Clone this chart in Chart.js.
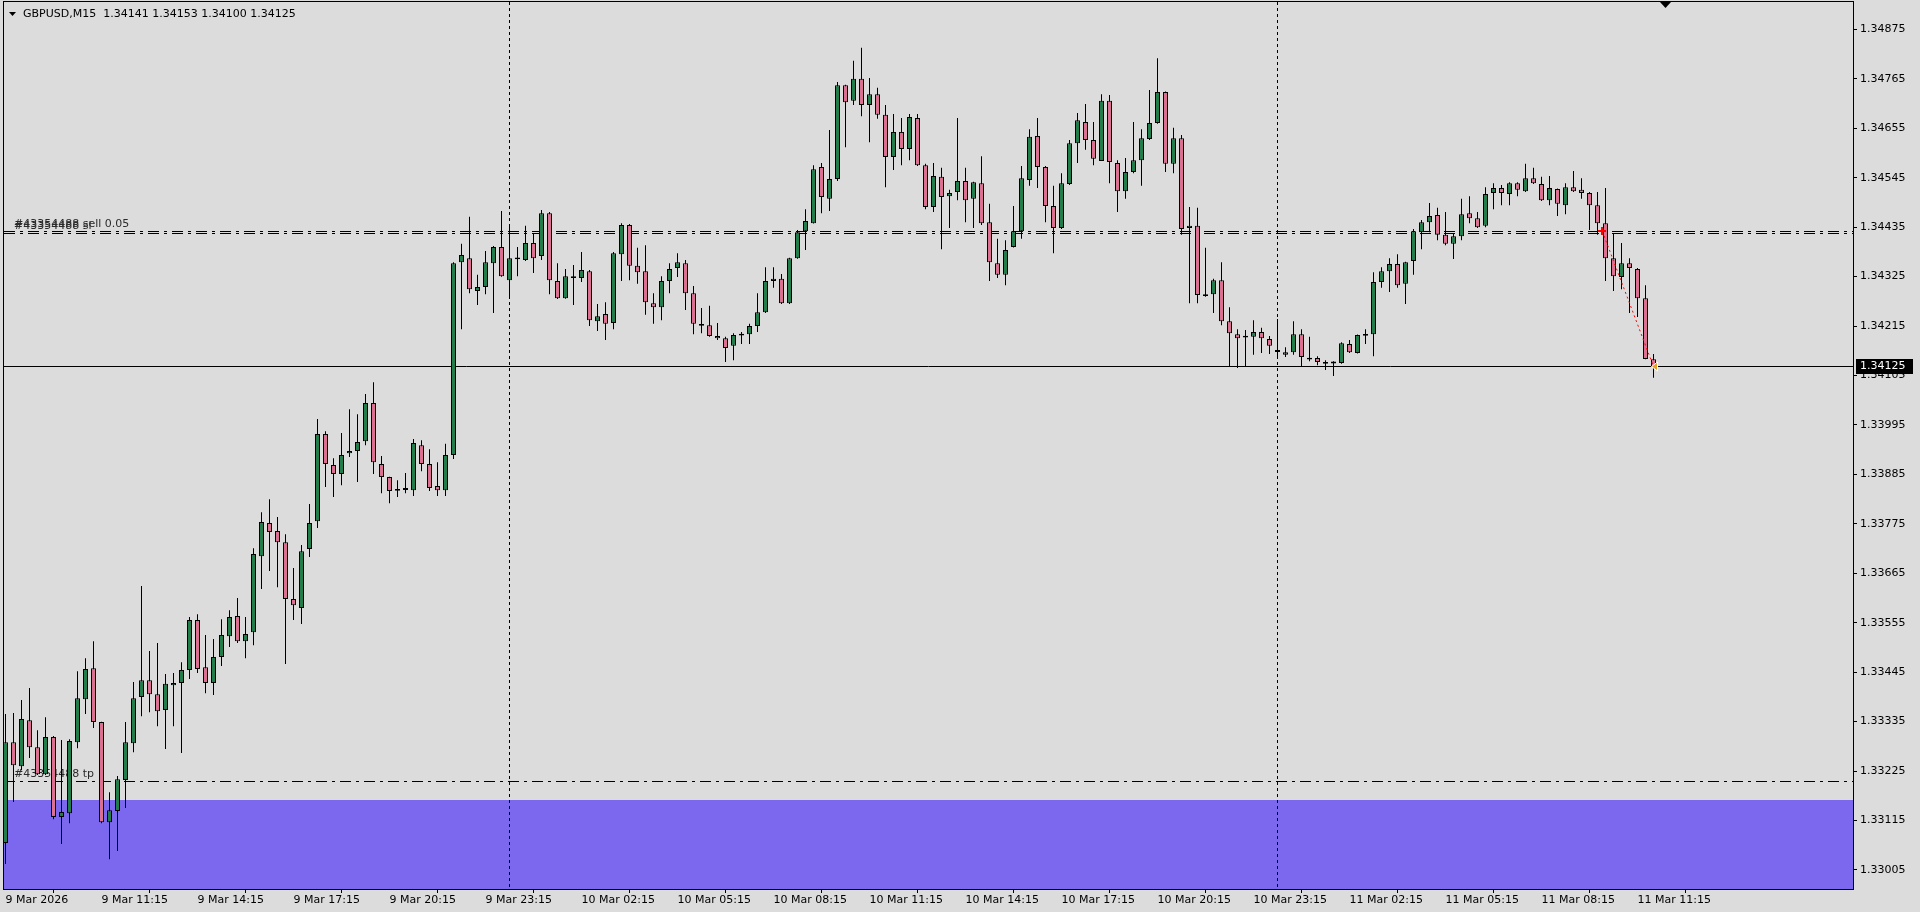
<!DOCTYPE html>
<html>
<head>
<meta charset="utf-8">
<title>GBPUSD,M15</title>
<script src="https://cdn.jsdelivr.net/npm/chart.js@4/dist/chart.umd.min.js"></script>
<style>
  html, body { margin: 0; padding: 0; background: #dcdcdc; overflow: hidden; }
  #wrap { width: 1920px; height: 912px; }
</style>
</head>
<body>
<div id="wrap"><canvas id="chart" width="1920" height="912"></canvas></div>
<script>
// ---- data (GBPUSD M15, 9 Mar 08:15 .. 11 Mar 11:45) ----
const symbolName = "GBPUSD,M15";

const timeLabels = [
  "9 Mar 2026", "9 Mar 11:15", "9 Mar 14:15", "9 Mar 17:15", "9 Mar 20:15", "9 Mar 23:15",
  "10 Mar 02:15", "10 Mar 05:15", "10 Mar 08:15", "10 Mar 11:15", "10 Mar 14:15", "10 Mar 17:15",
  "10 Mar 20:15", "10 Mar 23:15", "11 Mar 02:15", "11 Mar 05:15", "11 Mar 08:15", "11 Mar 11:15"
];
const barsPerLabel = 12; // 3 hours of M15 bars

const priceTicks = [
  1.33005, 1.33115, 1.33225, 1.33335, 1.33445, 1.33555, 1.33665, 1.33775, 1.33885,
  1.33995, 1.34105, 1.34215, 1.34325, 1.34435, 1.34545, 1.34655, 1.34765, 1.34875
];

const opens = [
  1.33065,1.33289,1.33236,1.33338,1.33278,1.33218,1.33301,1.33123,1.33131,1.33289,
  1.33385,1.33454,1.33334,1.33111,1.33136,1.33205,1.33287,1.33390,1.33427,1.33396,
  1.33361,1.33416,1.33421,1.33450,1.33561,1.33456,1.33421,1.33479,1.33525,1.33570,
  1.33514,1.33534,1.33703,1.33777,1.33759,1.33734,1.33608,1.33588,1.33719,1.33781,
  1.33975,1.33906,1.33886,1.33932,1.33937,1.33959,1.34044,1.33908,1.33879,1.33850,
  1.33852,1.33850,1.33950,1.33908,1.33859,1.33850,1.33928,1.34357,1.34366,1.34293,
  1.34302,1.34355,1.34391,1.34317,1.34365,1.34362,1.34400,1.34371,1.34466,1.34315,
  1.34277,1.34326,1.34322,1.34337,1.34226,1.34242,1.34222,1.34375,1.34440,1.34349,
  1.34337,1.34266,1.34257,1.34315,1.34344,1.34355,1.34288,1.34217,1.34217,1.34193,
  1.34188,1.34171,1.34195,1.34197,1.34215,1.34246,1.34315,1.34320,1.34266,1.34366,
  1.34426,1.34444,1.34569,1.34498,1.34542,1.34751,1.34716,1.34765,1.34707,1.34731,
  1.34685,1.34591,1.34647,1.34609,1.34678,1.34573,1.34480,1.34547,1.34504,1.34513,
  1.34538,1.34498,1.34533,1.34446,1.34355,1.34329,1.34391,1.34426,1.34540,1.34638,
  1.34569,1.34482,1.34433,1.34531,1.34622,1.34669,1.34629,1.34582,1.34716,1.34578,
  1.34515,1.34558,1.34584,1.34631,1.34667,1.34736,1.34576,1.34633,1.34433,1.34438,
  1.34282,1.34286,1.34317,1.34226,1.34197,1.34191,1.34191,1.34202,1.34186,1.34159,
  1.34151,1.34157,1.34197,1.34143,1.34144,1.34133,1.34133,1.34133,1.34175,1.34155,
  1.34195,1.34197,1.34313,1.34337,1.34353,1.34309,1.34360,1.34424,1.34446,1.34462,
  1.34418,1.34398,1.34415,1.34466,1.34455,1.34438,1.34511,1.34522,1.34509,1.34533,
  1.34515,1.34544,1.34531,1.34495,1.34520,1.34484,1.34524,1.34518,1.34511,1.34484,
  1.34444,1.34366,1.34324,1.34355,1.34342,1.34277,1.34141
];
const highs = [
  1.33352,1.33354,1.33383,1.33410,1.33316,1.33345,1.33303,1.33294,1.33296,1.33447,
  1.33476,1.33514,1.33335,1.33178,1.33214,1.33334,1.33423,1.33637,1.33492,1.33510,
  1.33441,1.33443,1.33467,1.33568,1.33574,1.33528,1.33519,1.33563,1.33583,1.33610,
  1.33568,1.33721,1.33801,1.33830,1.33790,1.33752,1.33677,1.33728,1.33819,1.34008,
  1.33981,1.33921,1.33977,1.34030,1.34019,1.34064,1.34090,1.33926,1.33880,1.33872,
  1.33888,1.33964,1.33961,1.33941,1.33912,1.33953,1.34357,1.34398,1.34458,1.34329,
  1.34382,1.34393,1.34471,1.34438,1.34391,1.34438,1.34420,1.34473,1.34469,1.34355,
  1.34342,1.34351,1.34380,1.34340,1.34264,1.34268,1.34380,1.34444,1.34442,1.34389,
  1.34395,1.34288,1.34326,1.34355,1.34377,1.34362,1.34304,1.34255,1.34260,1.34222,
  1.34191,1.34199,1.34202,1.34220,1.34288,1.34346,1.34346,1.34331,1.34367,1.34429,
  1.34475,1.34573,1.34578,1.34651,1.34758,1.34752,1.34805,1.34834,1.34767,1.34745,
  1.34707,1.34687,1.34678,1.34687,1.34687,1.34576,1.34578,1.34567,1.34518,1.34678,
  1.34567,1.34536,1.34593,1.34487,1.34409,1.34406,1.34482,1.34571,1.34653,1.34678,
  1.34571,1.34527,1.34555,1.34629,1.34689,1.34709,1.34669,1.34731,1.34729,1.34584,
  1.34589,1.34669,1.34653,1.34740,1.34811,1.34737,1.34656,1.34640,1.34480,1.34478,
  1.34389,1.34320,1.34357,1.34257,1.34208,1.34206,1.34228,1.34211,1.34193,1.34231,
  1.34168,1.34226,1.34208,1.34191,1.34148,1.34139,1.34137,1.34179,1.34184,1.34196,
  1.34208,1.34335,1.34346,1.34366,1.34375,1.34358,1.34431,1.34451,1.34489,1.34478,
  1.34469,1.34420,1.34498,1.34504,1.34469,1.34524,1.34533,1.34529,1.34535,1.34535,
  1.34576,1.34567,1.34547,1.34549,1.34521,1.34533,1.34560,1.34544,1.34513,1.34513,
  1.34522,1.34420,1.34400,1.34366,1.34344,1.34306,1.34153
];
const lows = [
  1.33018,1.33156,1.33227,1.33254,1.33216,1.33216,1.33118,1.33063,1.33109,1.33276,
  1.33352,1.33321,1.33109,1.33029,1.33047,1.33143,1.33267,1.33347,1.33356,1.33325,
  1.33274,1.33325,1.33265,1.33430,1.33443,1.33398,1.33394,1.33459,1.33501,1.33510,
  1.33476,1.33505,1.33630,1.33670,1.33634,1.33463,1.33561,1.33552,1.33701,1.33766,
  1.33857,1.33835,1.33861,1.33924,1.33868,1.33950,1.33886,1.33843,1.33821,1.33835,
  1.33843,1.33837,1.33892,1.33848,1.33837,1.33837,1.33919,1.34208,1.34288,1.34262,
  1.34286,1.34244,1.34325,1.34275,1.34326,1.34360,1.34333,1.34362,1.34286,1.34275,
  1.34276,1.34262,1.34313,1.34215,1.34204,1.34184,1.34208,1.34315,1.34317,1.34309,
  1.34240,1.34220,1.34228,1.34288,1.34324,1.34251,1.34197,1.34199,1.34191,1.34184,
  1.34135,1.34139,1.34175,1.34175,1.34202,1.34244,1.34300,1.34264,1.34264,1.34365,
  1.34384,1.34443,1.34466,1.34471,1.34538,1.34613,1.34707,1.34682,1.34624,1.34676,
  1.34524,1.34562,1.34573,1.34584,1.34571,1.34475,1.34469,1.34386,1.34433,1.34495,
  1.34446,1.34433,1.34440,1.34315,1.34322,1.34306,1.34390,1.34409,1.34527,1.34522,
  1.34446,1.34377,1.34431,1.34529,1.34578,1.34607,1.34573,1.34582,1.34533,1.34469,
  1.34498,1.34555,1.34527,1.34629,1.34665,1.34558,1.34555,1.34418,1.34266,1.34266,
  1.34280,1.34244,1.34217,1.34126,1.34122,1.34126,1.34151,1.34155,1.34153,1.34142,
  1.34146,1.34151,1.34126,1.34137,1.34128,1.34117,1.34104,1.34131,1.34155,1.34154,
  1.34175,1.34148,1.34300,1.34291,1.34300,1.34264,1.34329,1.34386,1.34424,1.34406,
  1.34395,1.34364,1.34406,1.34444,1.34433,1.34435,1.34475,1.34484,1.34484,1.34504,
  1.34513,1.34531,1.34493,1.34484,1.34460,1.34464,1.34513,1.34498,1.34429,1.34418,
  1.34315,1.34293,1.34297,1.34244,1.34235,1.34141,1.34100
];
const closes = [
  1.33289,1.33238,1.33341,1.33278,1.33218,1.33301,1.33123,1.33134,1.33292,1.33387,
  1.33452,1.33334,1.33111,1.33138,1.33207,1.33289,1.33387,1.33427,1.33396,1.33358,
  1.33419,1.33421,1.33450,1.33561,1.33452,1.33421,1.33479,1.33528,1.33568,1.33514,
  1.33530,1.33708,1.33779,1.33757,1.33734,1.33608,1.33594,1.33714,1.33777,1.33975,
  1.33908,1.33886,1.33928,1.33937,1.33957,1.34044,1.33912,1.33879,1.33848,1.33851,
  1.33853,1.33955,1.33908,1.33855,1.33850,1.33928,1.34355,1.34373,1.34297,1.34302,
  1.34357,1.34391,1.34326,1.34366,1.34366,1.34400,1.34366,1.34466,1.34317,1.34277,
  1.34326,1.34322,1.34340,1.34228,1.34237,1.34220,1.34377,1.34440,1.34349,1.34335,
  1.34268,1.34257,1.34315,1.34342,1.34357,1.34288,1.34220,1.34218,1.34193,1.34188,
  1.34166,1.34195,1.34197,1.34215,1.34246,1.34315,1.34320,1.34266,1.34366,1.34424,
  1.34449,1.34564,1.34502,1.34542,1.34751,1.34713,1.34765,1.34707,1.34731,1.34685,
  1.34591,1.34647,1.34609,1.34680,1.34573,1.34480,1.34549,1.34502,1.34511,1.34538,
  1.34495,1.34535,1.34444,1.34357,1.34329,1.34384,1.34426,1.34544,1.34636,1.34569,
  1.34482,1.34433,1.34533,1.34622,1.34673,1.34629,1.34587,1.34716,1.34580,1.34515,
  1.34558,1.34584,1.34633,1.34667,1.34736,1.34576,1.34633,1.34431,1.34438,1.34284,
  1.34286,1.34317,1.34226,1.34199,1.34188,1.34192,1.34202,1.34188,1.34171,1.34160,
  1.34157,1.34197,1.34146,1.34142,1.34135,1.34133,1.34135,1.34177,1.34157,1.34195,
  1.34196,1.34313,1.34337,1.34353,1.34306,1.34357,1.34426,1.34446,1.34460,1.34418,
  1.34398,1.34415,1.34464,1.34455,1.34435,1.34509,1.34522,1.34511,1.34533,1.34518,
  1.34544,1.34533,1.34495,1.34522,1.34487,1.34524,1.34515,1.34511,1.34484,1.34444,
  1.34366,1.34326,1.34355,1.34344,1.34277,1.34142,1.34125
];

// chart objects
const orderLevels = [
  { label: "#43354488 sell 0.05", price: 1.34426 },
  { label: "#43354488 sl", price: 1.34420 },
  { label: "#43354488 tp", price: 1.33202 }
];
const tpZoneTop = 1.33160;
const daySeparatorBars = [63, 159];
const tradeOpen = { bar: 199.6, price: 1.34426 };
const tradeClose = { bar: 206, price: 1.34125 };

const BULL = "#237d4b", BEAR = "#db7093", BG = "#dcdcdc";
const FONT = '"DejaVu Sans", "Liberation Sans", sans-serif';

const lastBar = closes.length - 1;
const currentPrice = closes[lastBar];

// candle pieces: wick = [low, high], body = [min(o,c), max(o,c)] (dojis get a hairline body)
const wickData = highs.map((h, i) => ({ x: i, y: [lows[i], h] }));
const bodyData = opens.map((o, i) => {
  let lo = Math.min(o, closes[i]), hi = Math.max(o, closes[i]);
  if (hi - lo < 0.00004) { const m = (hi + lo) / 2; lo = m - 0.00002; hi = m + 0.00002; }
  return { x: i, y: [lo, hi] };
});
const bodyColors = opens.map((o, i) => closes[i] >= o ? BULL : BEAR);

function hLine(ctx, a, py) {
  const yy = Math.floor(py) + 0.5;
  ctx.beginPath(); ctx.moveTo(a.left, yy); ctx.lineTo(a.right, yy); ctx.stroke();
  return yy;
}

const mtObjects = {
  id: "mtObjects",
  beforeDraw(chart) {
    const { ctx, width, height } = chart;
    ctx.save(); ctx.fillStyle = BG; ctx.fillRect(0, 0, width, height); ctx.restore();
  },
  beforeDatasetsDraw(chart) {
    const { ctx, chartArea: a, scales: { x, y } } = chart;
    ctx.save();
    ctx.beginPath(); ctx.rect(a.left, a.top, a.right - a.left, a.bottom - a.top); ctx.clip();

    // take-profit zone rectangle
    const zTop = Math.round(y.getPixelForValue(tpZoneTop));
    ctx.fillStyle = "#7b68ee";
    ctx.fillRect(a.left, zTop, a.right - a.left, a.bottom - zTop);

    // day separators
    ctx.strokeStyle = "#000"; ctx.lineWidth = 1;
    ctx.setLineDash([3, 3]);
    daySeparatorBars.forEach((b) => {
      const px = Math.floor(x.getPixelForValue(b)) + 0.5;
      ctx.beginPath(); ctx.moveTo(px, a.top); ctx.lineTo(px, a.bottom); ctx.stroke();
    });

    // order levels + their labels
    ctx.setLineDash([11, 5, 3, 5]);
    ctx.font = "11px " + FONT;
    ctx.textBaseline = "middle"; ctx.textAlign = "left";
    orderLevels.forEach((o) => {
      ctx.strokeStyle = "#000";
      const yy = hLine(ctx, a, y.getPixelForValue(o.price));
      ctx.fillStyle = "#2b2b2b";
      ctx.fillText(o.label, a.left + 10, yy - 7);
    });
    ctx.setLineDash([]);

    // bid line
    ctx.strokeStyle = "#000";
    hLine(ctx, a, y.getPixelForValue(currentPrice));
    ctx.restore();
  },
  afterDatasetsDraw(chart) {
    const { ctx, chartArea: a, scales: { x, y } } = chart;
    ctx.save();
    ctx.beginPath(); ctx.rect(a.left, a.top, a.right - a.left, a.bottom - a.top); ctx.clip();
    const x0 = x.getPixelForValue(tradeOpen.bar), y0 = y.getPixelForValue(tradeOpen.price);
    const x1 = x.getPixelForValue(tradeClose.bar), y1 = y.getPixelForValue(tradeClose.price);
    // trade history line
    ctx.strokeStyle = "#ff0000"; ctx.lineWidth = 1; ctx.setLineDash([2, 3]);
    ctx.beginPath(); ctx.moveTo(x0, y0); ctx.lineTo(x1, y1); ctx.stroke();
    ctx.setLineDash([]);
    // open arrow
    ctx.fillStyle = "#ff0000";
    ctx.fillRect(Math.round(x0) - 4, Math.round(y0) - 1, 8, 2);
    ctx.fillRect(Math.round(x0) - 1, Math.round(y0) - 4, 2, 8);
    // close arrow
    ctx.beginPath();
    ctx.moveTo(x1 - 2, y1); ctx.lineTo(x1 + 4, y1 - 4.5); ctx.lineTo(x1 + 4, y1 + 4.5); ctx.closePath();
    ctx.fillStyle = "#f0a020"; ctx.fill();
    ctx.strokeStyle = "#ffffff"; ctx.stroke();
    ctx.restore();
  },
  afterDraw(chart) {
    const { ctx, chartArea: a, scales: { y } } = chart;
    ctx.save();
    // frame
    ctx.strokeStyle = "#000"; ctx.lineWidth = 1;
    ctx.strokeRect(a.left - 0.5, a.top - 0.5, a.right - a.left + 1, a.bottom - a.top + 1);

    // current price tag on the price scale
    const py = Math.floor(y.getPixelForValue(currentPrice));
    ctx.fillStyle = "#000";
    ctx.fillRect(a.right + 3, py - 7, 57, 15);
    ctx.fillStyle = "#fff";
    ctx.font = "11px " + FONT; ctx.textBaseline = "middle"; ctx.textAlign = "left";
    ctx.fillText(currentPrice.toFixed(5), a.right + 7, py + 0.5);

    // header: symbol, timeframe and last bar OHLC
    ctx.fillStyle = "#000";
    ctx.beginPath(); ctx.moveTo(9, 12); ctx.lineTo(16, 12); ctx.lineTo(12.5, 16); ctx.closePath(); ctx.fill();
    const head = symbolName + "  " + [opens[lastBar], highs[lastBar], lows[lastBar], closes[lastBar]]
      .map((v) => v.toFixed(5)).join(" ");
    ctx.fillText(head, 23, 14);

    // chart shift marker
    ctx.beginPath(); ctx.moveTo(1660, 2); ctx.lineTo(1671, 2); ctx.lineTo(1665.5, 8); ctx.closePath(); ctx.fill();
    ctx.restore();
  }
};

const ctx = document.getElementById("chart").getContext("2d");
new Chart(ctx, {
  type: "bar",
  data: {
    datasets: [
      { label: "wick", data: wickData, backgroundColor: "#000", borderWidth: 0,
        barThickness: 1, grouped: false, inflateAmount: 0, clip: 0, order: 2 },
      { label: "body", data: bodyData, backgroundColor: bodyColors, borderColor: "#000", borderWidth: 1,
        borderSkipped: false, barThickness: 5, grouped: false, inflateAmount: 0, clip: 0, order: 1 }
    ]
  },
  options: {
    responsive: false,
    animation: false,
    devicePixelRatio: 1,
    events: [],
    layout: { padding: { left: 4, top: 2, right: 0, bottom: 0 } },
    plugins: { legend: { display: false }, tooltip: { enabled: false } },
    scales: {
      x: {
        type: "linear", offset: false, bounds: "data",
        min: -0.1875, max: 230.9375, // 8 px per bar, first bar just inside the frame
        grid: { display: true, drawOnChartArea: false, drawTicks: true, tickLength: 4, color: "#000" },
        border: { display: false },
        ticks: {
          autoSkip: false, maxRotation: 0, minRotation: 0, align: "start", padding: 1,
          color: "#000", font: { family: FONT, size: 11 },
          callback: (v, i) => timeLabels[i]
        },
        afterBuildTicks: (s) => { s.ticks = timeLabels.map((_, i) => ({ value: i * barsPerLabel })); },
        afterFit: (s) => { s.height = 23; s.paddingLeft = 0; s.paddingRight = 0; }
      },
      y: {
        type: "linear", position: "right", bounds: "data",
        min: 1.3296266, max: 1.3493596,
        grid: { display: true, drawOnChartArea: false, drawTicks: true, tickLength: 4, color: "#000" },
        border: { display: false },
        ticks: { padding: 3, color: "#000", font: { family: FONT, size: 11 }, callback: (v) => Number(v).toFixed(5) },
        afterBuildTicks: (s) => { s.ticks = priceTicks.map((v) => ({ value: v })); },
        afterFit: (s) => { s.width = 67; s.paddingTop = 0; s.paddingBottom = 0; }
      }
    }
  },
  plugins: [mtObjects]
});
</script>
</body>
</html>
